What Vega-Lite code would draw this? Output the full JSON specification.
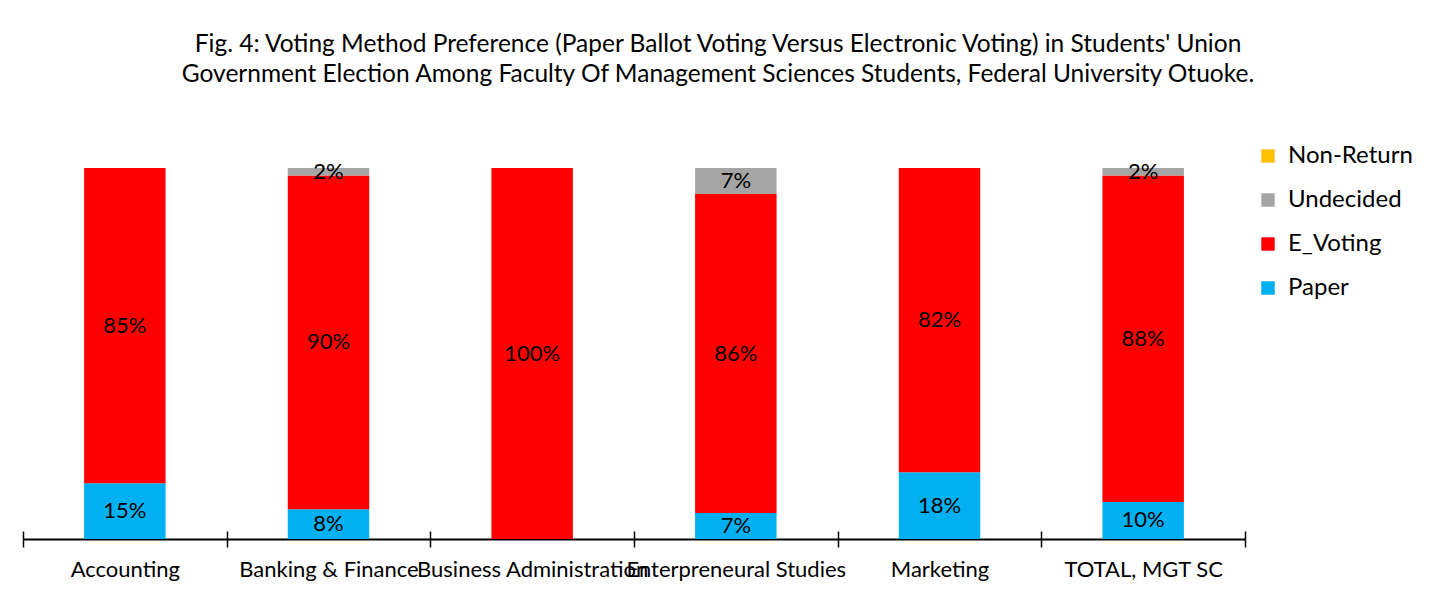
{
  "$schema": "https://vega.github.io/schema/vega-lite/v6.json",
  "autosize": {"type": "none"},
  "width": 1222,
  "height": 371,
  "padding": {"left": 23, "top": 168, "right": 193, "bottom": 70},
  "background": "white",
  "config": {"view": {"stroke": null}, "font": "Lato"},
  "title": {
    "text": ["Fig. 4: Voting Method Preference  (Paper Ballot Voting Versus Electronic Voting) in Students' Union", "Government  Election Among  Faculty Of Management  Sciences Students,  Federal University Otuoke."],
    "fontSize": 24.5,
    "fontWeight": "normal",
    "color": "#000000",
    "lineHeight": 30,
    "anchor": "middle",
    "dx": 84,
    "offset": 57
  },
  "data": {
    "values": [
      {"dept": "Accounting", "method": "Paper", "ord": 1, "share": 0.15},
      {"dept": "Accounting", "method": "E_Voting", "ord": 2, "share": 0.85},
      {"dept": "Accounting", "method": "Undecided", "ord": 3, "share": 0},
      {"dept": "Accounting", "method": "Non-Return", "ord": 4, "share": 0},
      {"dept": "Banking & Finance", "method": "Paper", "ord": 1, "share": 0.08},
      {"dept": "Banking & Finance", "method": "E_Voting", "ord": 2, "share": 0.90},
      {"dept": "Banking & Finance", "method": "Undecided", "ord": 3, "share": 0.02},
      {"dept": "Banking & Finance", "method": "Non-Return", "ord": 4, "share": 0},
      {"dept": "Business Administration", "method": "Paper", "ord": 1, "share": 0},
      {"dept": "Business Administration", "method": "E_Voting", "ord": 2, "share": 1.00},
      {"dept": "Business Administration", "method": "Undecided", "ord": 3, "share": 0},
      {"dept": "Business Administration", "method": "Non-Return", "ord": 4, "share": 0},
      {"dept": "Enterpreneural Studies", "method": "Paper", "ord": 1, "share": 0.07},
      {"dept": "Enterpreneural Studies", "method": "E_Voting", "ord": 2, "share": 0.86},
      {"dept": "Enterpreneural Studies", "method": "Undecided", "ord": 3, "share": 0.07},
      {"dept": "Enterpreneural Studies", "method": "Non-Return", "ord": 4, "share": 0},
      {"dept": "Marketing", "method": "Paper", "ord": 1, "share": 0.18},
      {"dept": "Marketing", "method": "E_Voting", "ord": 2, "share": 0.82},
      {"dept": "Marketing", "method": "Undecided", "ord": 3, "share": 0},
      {"dept": "Marketing", "method": "Non-Return", "ord": 4, "share": 0},
      {"dept": "TOTAL, MGT SC", "method": "Paper", "ord": 1, "share": 0.10},
      {"dept": "TOTAL, MGT SC", "method": "E_Voting", "ord": 2, "share": 0.88},
      {"dept": "TOTAL, MGT SC", "method": "Undecided", "ord": 3, "share": 0.02},
      {"dept": "TOTAL, MGT SC", "method": "Non-Return", "ord": 4, "share": 0}
    ]
  },
  "transform": [
    {"stack": "share", "groupby": ["dept"], "sort": [{"field": "ord", "order": "ascending"}], "as": ["y0", "y1"]},
    {"calculate": "(datum.y0 + datum.y1) / 2", "as": "ymid"}
  ],
  "layer": [
    {
      "mark": {"type": "bar", "width": {"band": 0.4}},
      "encoding": {
        "x": {
          "field": "dept", "type": "nominal", "sort": null, "title": null,
          "scale": {"paddingInner": 0, "paddingOuter": 0},
          "axis": {
            "orient": "bottom",
            "domainColor": "#000000", "domainWidth": 2,
            "tickBand": "extent", "tickColor": "#000000", "tickWidth": 1.5, "tickSize": 8,
            "labelAngle": 0, "labelFontSize": 22, "labelColor": "#000000",
            "labelPadding": 12, "labelOverlap": false, "labelLimit": 0, "labelFont": "Lato"
          }
        },
        "y": {"field": "y0", "type": "quantitative", "scale": {"domain": [0, 1]}, "axis": null},
        "y2": {"field": "y1"},
        "color": {
          "field": "method", "type": "nominal",
          "scale": {"domain": ["Non-Return", "Undecided", "E_Voting", "Paper"], "range": ["#FFC000", "#A5A5A5", "#FF0000", "#00B0F0"]},
          "legend": {
            "title": null, "orient": "none", "legendX": 1233, "legendY": -24,
            "symbolType": "square", "symbolSize": 180, "symbolStrokeWidth": 0,
            "labelFontSize": 24, "labelColor": "#000000", "labelFont": "Lato", "rowPadding": 20, "labelOffset": 8
          }
        }
      }
    },
    {
      "transform": [{"filter": "datum.share > 0"}],
      "mark": {"type": "text", "fontSize": 22, "color": "#000000", "font": "Lato"},
      "encoding": {
        "x": {
          "field": "dept", "type": "nominal", "sort": null, "title": null,
          "axis": {"orient": "bottom", "domain": false, "labels": false, "tickBand": "extent", "tickColor": "#000000", "tickWidth": 1.5, "tickSize": -8}
        },
        "y": {"field": "ymid", "type": "quantitative", "scale": {"domain": [0, 1]}, "axis": null},
        "text": {"field": "share", "type": "quantitative", "format": ".0%"}
      }
    }
  ],
  "resolve": {"axis": {"x": "independent"}}
}
